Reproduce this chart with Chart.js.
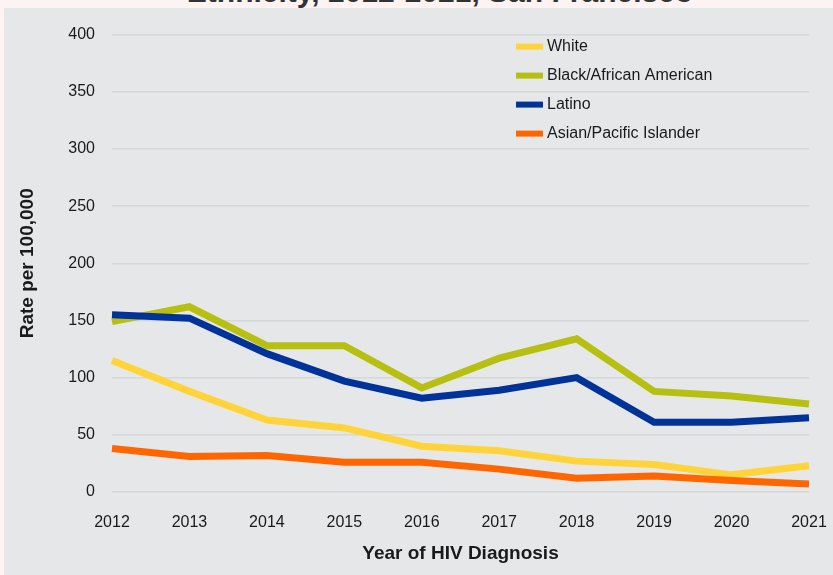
<!DOCTYPE html>
<html>
<head>
<meta charset="utf-8">
<script src="https://cdn.jsdelivr.net/npm/chart.js@4"></script>
<style>
  html, body { margin: 0; padding: 0; background: #fdf3f2; }
  body { width: 833px; height: 575px; position: relative; overflow: hidden; }
  #title {
    position: absolute; left: 0; top: -25px; width: 880px; text-align: center;
    font: bold 30px "Liberation Sans", Arial, sans-serif; color: #333;
    white-space: nowrap;
  }
  #panel { position: absolute; left: 4px; top: 8px; width: 829px; height: 567px; background: #e6e7e9; }
</style>
</head>
<body>
<div id="title">Ethnicity, 2012-2021, San Francisco</div>
<div id="panel"><canvas id="chart" width="829" height="567"></canvas></div>
<script>
// Tasa de nuevos diagnósticos de VIH por raza/etnia
const years = ["2012", "2013", "2014", "2015", "2016", "2017", "2018", "2019", "2020", "2021"];
const seriesNames = ["White", "Black/African American", "Latino", "Asian/Pacific Islander"];
const seriesColors = ["#ffd43b", "#b7bf10", "#003399", "#ff6600"];

const white = [115, 88, 63, 56, 40, 36, 27, 24, 15, 23];
const black = [149, 162, 128, 128, 91, 117, 134, 88, 84, 77];
const latino = [155, 152, 121, 97, 82, 89, 100, 61, 61, 65];
const asianPI = [38, 31, 32, 26, 26, 20, 12, 14, 10, 7];

const yTicks = [0, 50, 100, 150, 200, 250, 300, 350, 400];

const values = [white, black, latino, asianPI];

const FONT = "'Liberation Sans', Arial, sans-serif";
const TEXT = "#1a1a1a";

// leyenda dibujada a mano dentro del área del gráfico
const legendBox = {
  id: "legendBox",
  afterDraw(chart) {
    const ctx = chart.ctx;
    const ca = chart.chartArea;
    const x0 = ca.left + 404;
    const y0 = ca.top + 12;
    ctx.save();
    ctx.font = "16px " + FONT;
    ctx.textBaseline = "middle";
    seriesNames.forEach((name, i) => {
      const y = y0 + i * 29;
      ctx.fillStyle = seriesColors[i];
      ctx.fillRect(x0, y - 3, 27, 6);
      ctx.fillStyle = TEXT;
      ctx.fillText(name, x0 + 31, y);
    });
    ctx.restore();
  }
};

new Chart(document.getElementById("chart"), {
  type: "line",
  data: {
    labels: years,
    datasets: seriesNames.map((name, i) => ({
      label: name,
      data: values[i],
      borderColor: seriesColors[i],
      backgroundColor: seriesColors[i],
      borderWidth: 7,
      pointRadius: 0,
      tension: 0,
      fill: false,
      order: 4 - i
    }))
  },
  options: {
    responsive: false,
    animation: false,
    layout: { padding: { top: 26, right: 24, left: 0, bottom: 0 } },
    plugins: {
      legend: { display: false },
      tooltip: { enabled: false }
    },
    scales: {
      x: {
        offset: false,
        grid: { display: false },
        border: { display: false },
        ticks: { color: TEXT, font: { family: FONT, size: 16 }, padding: 13, maxRotation: 0 },
        title: {
          display: true, text: "Year of HIV Diagnosis", color: TEXT,
          font: { family: FONT, size: 19, weight: "bold" }, padding: { top: 10, bottom: 10 }
        },
        afterFit(scale) {
          scale.height = 83;
          scale.paddingLeft = 0;
          scale.paddingRight = 0;
        }
      },
      y: {
        min: 0, max: 400,
        afterBuildTicks(scale) { scale.ticks = yTicks.map(v => ({ value: v })); },
        grid: { color: "#d6d7d9", lineWidth: 1.5, drawTicks: false },
        border: { display: false },
        ticks: { color: TEXT, font: { family: FONT, size: 16 }, padding: 17 },
        title: {
          display: true, text: "Rate per 100,000", color: TEXT,
          font: { family: FONT, size: 19, weight: "bold" }, padding: { top: 12, bottom: 12 }
        },
        afterFit(scale) { scale.width = 108; }
      }
    }
  },
  plugins: [legendBox]
});
</script>
</body>
</html>
